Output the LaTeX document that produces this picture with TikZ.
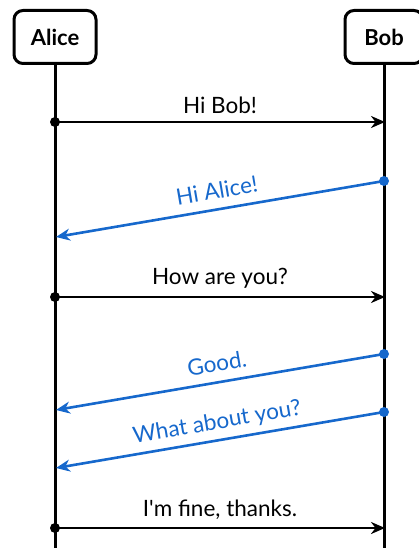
\documentclass[tikz,border=0pt]{standalone}
\usepackage{fontspec}
\setmainfont{Lato}
\usetikzlibrary{arrows.meta}
\definecolor{msgblue}{RGB}{22,104,204}
\begin{document}
\begin{tikzpicture}[x=1pt,y=-1pt,
  actor/.style={draw,line width=3pt,rounded corners=9pt,minimum height=53pt,inner sep=0pt,font=\fontsize{22}{26}\selectfont\bfseries},
  life/.style={line width=3pt},
  msg/.style={line width=2.6pt,-{Stealth[length=14pt,width=12pt,inset=4.5pt]}},
  startdot/.style={circle,fill,inner sep=0pt,minimum size=10pt},
  lbl/.style={font=\fontsize{22.5}{26}\selectfont,inner sep=1pt},
  reply/.style={msg,msgblue}]
\useasboundingbox (0,0) rectangle (419,548);
\node[actor,minimum width=82pt] (alice) at (55,37) {Alice};
\node[actor,minimum width=78pt] (bob) at (384,37) {Bob};
\coordinate (aend) at (55,548);
\coordinate (bend) at (384,548);
\draw[life] (alice.south) -- (aend);
\draw[life] (bob.south) -- (bend);
% message endpoints
\coordinate (a1) at (55,122);  \coordinate (b1) at (385,122);
\coordinate (b2) at (384,181); \coordinate (a2) at (56,237);
\coordinate (a3) at (55,297);  \coordinate (b3) at (385,297);
\coordinate (b4) at (384,354); \coordinate (a4) at (56,410);
\coordinate (b5) at (384,412); \coordinate (a5) at (56,468);
\coordinate (a6) at (55,528);  \coordinate (b6) at (385,528);
% messages
\node[startdot] (d1) at (a1) {};
\draw[msg] (d1.center) -- node[lbl,above=6pt] (l1) {Hi Bob!} (b1);
\node[startdot,msgblue] (d2) at (b2) {};
\draw[reply] (d2.center) -- node[lbl,sloped,above=8pt,msgblue] (l2) {Hi Alice!} (a2);
\node[startdot] (d3) at (a3) {};
\draw[msg] (d3.center) -- node[lbl,above=6pt] (l3) {How are you?} (b3);
\node[startdot,msgblue] (d4) at (b4) {};
\draw[reply] (d4.center) -- node[lbl,sloped,above=8pt,msgblue] (l4) {Good.} (a4);
\node[startdot,msgblue] (d5) at (b5) {};
\draw[reply] (d5.center) -- node[lbl,sloped,above=5pt,msgblue] (l5) {What about you?} (a5);
\node[startdot] (d6) at (a6) {};
\draw[msg] (d6.center) -- node[lbl,above=6pt] (l6) {I\textquotesingle m fine, thanks.} (b6);
\end{tikzpicture}
\end{document}
